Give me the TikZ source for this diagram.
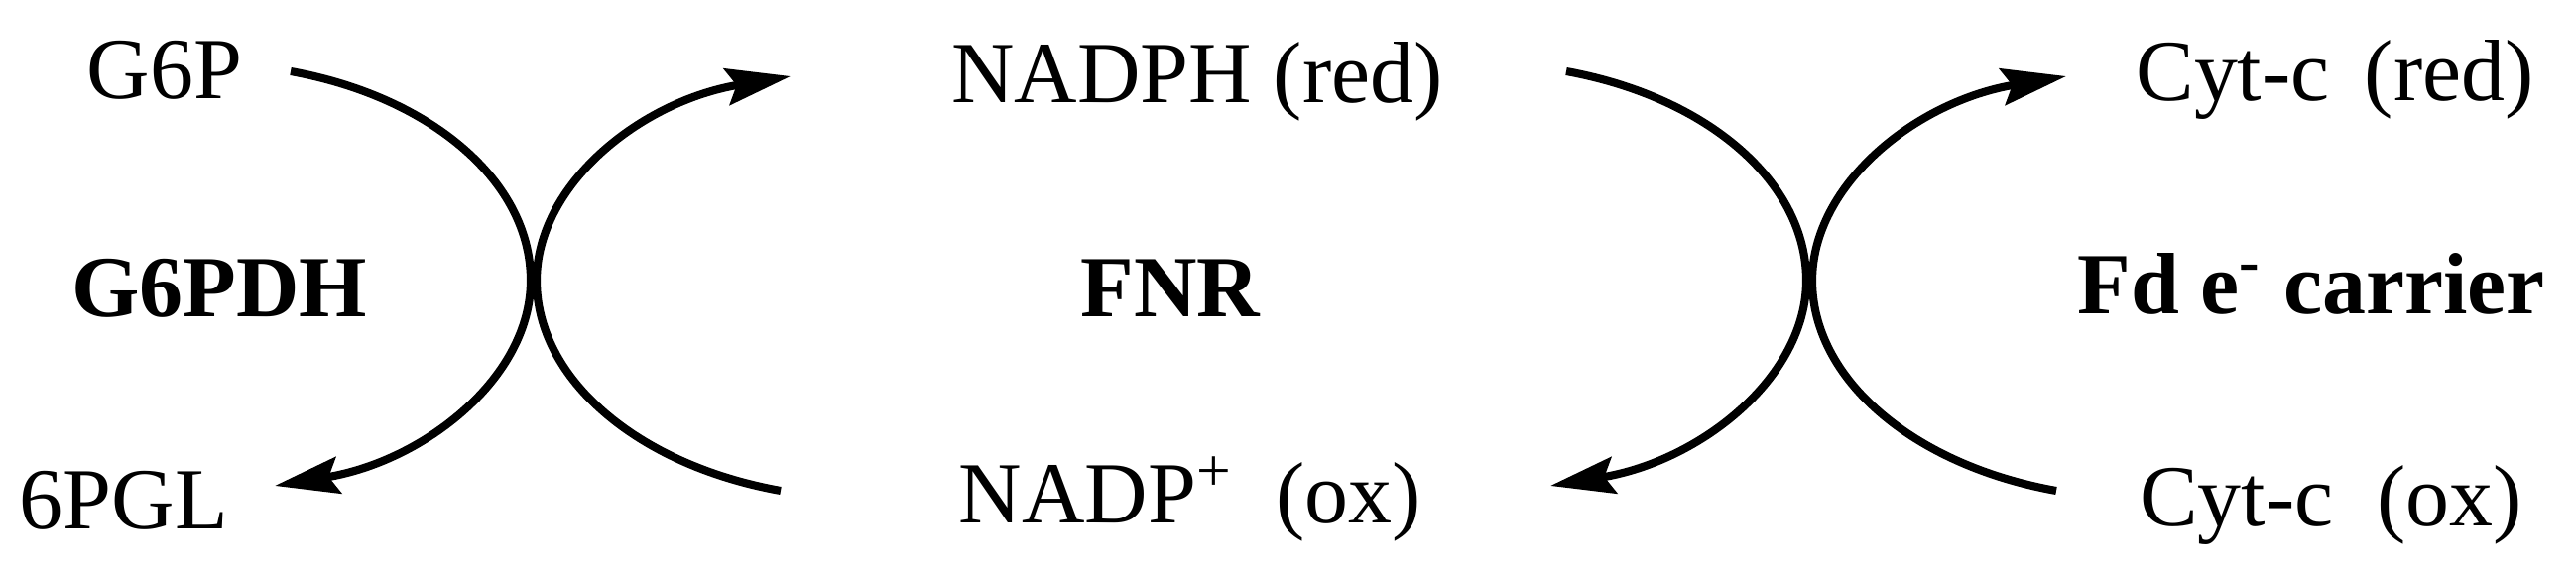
\documentclass[tikz,border=0pt]{standalone}
\usepackage{fontspec}
\setmainfont{Liberation Serif}
\usetikzlibrary{arrows.meta}
\begin{document}
\begin{tikzpicture}[x=0.01cm,y=-0.01cm,
  lbl/.style={font=\fontsize{25}{30}\selectfont, inner sep=0pt, anchor=base},
  enz/.style={font=\fontsize{25}{30}\selectfont\bfseries, inner sep=0pt, anchor=base},
  arcarrow/.style={line width=2.3pt, -{Stealth[length=0.65cm,width=0.37cm,inset=0.1cm]}}]
\useasboundingbox (0,0) rectangle (2597,579);
% labels
\node[lbl] (g6p) at (166,100) {G6P};
\node[enz] (g6pdh) at (221,319) {G6PDH};
\node[lbl] (pgl) at (125,533) {6PGL};
\node[lbl] (nadph) at (1207,104) {NADPH (red)};
\node[enz] (fnr) at (1180,319) {FNR};
\node[lbl] (nadp) at (1200,527) {NADP\textsuperscript{+}\ \ (ox)};
\node[lbl] (cytred) at (2354,102) {Cyt-c\hspace{0.4em}(red)};
\node[enz] (fd) at (2330,316) {Fd e\textsuperscript{-} carrier};
\node[lbl] (cytox) at (2350,530) {Cyt-c\ \ (ox)};
% arc end points
\coordinate (a1) at (293,72);
\coordinate (a2) at (535,283);
\coordinate (a3) at (277,490);
\coordinate (b1) at (787,495);
\coordinate (b2) at (541,283);
\coordinate (b3) at (797,77);
\coordinate (c1) at (1579,72);
\coordinate (c2) at (1821,283);
\coordinate (c3) at (1563,490);
\coordinate (d1) at (2073,495);
\coordinate (d2) at (1827,283);
\coordinate (d3) at (2083,77);
% arcs
\draw[arcarrow] (a1) .. controls (436,98) and (535,184) .. (a2)
  .. controls (535,380) and (429,465) .. (a3);
\draw[arcarrow] (b1) .. controls (642,469) and (541,382) .. (b2)
  .. controls (541,186) and (646,102) .. (b3);
\draw[arcarrow] (c1) .. controls (1722,98) and (1821,184) .. (c2)
  .. controls (1821,380) and (1715,465) .. (c3);
\draw[arcarrow] (d1) .. controls (1928,469) and (1827,382) .. (d2)
  .. controls (1827,186) and (1932,102) .. (d3);
\end{tikzpicture}
\end{document}
